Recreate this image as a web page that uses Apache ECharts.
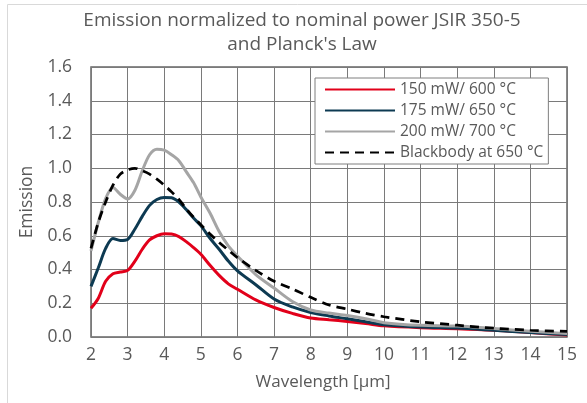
<!DOCTYPE html>
<html>
<head>
<meta charset="utf-8">
<script src="https://cdn.jsdelivr.net/npm/echarts@6/dist/echarts.min.js"></script>
<style>
  html, body { margin: 0; padding: 0; background: #fff; }
  #chart { width: 587px; height: 403px; }
</style>
</head>
<body>
<div id="chart"></div>
<script>
// wavelength grid in µm
const wavelength = [2, 2.2, 2.4, 2.6, 2.8, 3, 3.2, 3.4, 3.6, 3.8, 4, 4.2, 4.4, 4.6, 4.8, 5, 5.25, 5.5, 5.75, 6, 6.5, 7, 7.5, 8, 8.5, 9, 9.5, 10, 11, 12, 13, 14, 15];

const emission150 = [0.17, 0.23, 0.33, 0.375, 0.385, 0.395, 0.45, 0.52, 0.575, 0.60, 0.612, 0.61, 0.595, 0.565, 0.53, 0.49, 0.425, 0.365, 0.315, 0.283, 0.22, 0.175, 0.14, 0.112, 0.102, 0.092, 0.08, 0.066, 0.055, 0.049, 0.04, 0.026, 0.012];
const emission175 = [0.30, 0.41, 0.525, 0.583, 0.572, 0.578, 0.64, 0.715, 0.78, 0.815, 0.827, 0.825, 0.80, 0.755, 0.705, 0.66, 0.585, 0.52, 0.45, 0.392, 0.31, 0.225, 0.178, 0.145, 0.125, 0.108, 0.09, 0.072, 0.059, 0.053, 0.04, 0.026, 0.015];
const emission200 = [0.51, 0.68, 0.82, 0.886, 0.846, 0.818, 0.87, 0.985, 1.08, 1.113, 1.107, 1.08, 1.045, 0.98, 0.915, 0.83, 0.735, 0.625, 0.54, 0.48, 0.37, 0.29, 0.21, 0.16, 0.142, 0.127, 0.108, 0.085, 0.069, 0.065, 0.05, 0.034, 0.02];
const blackbody650 = [0.525, 0.68, 0.80, 0.90, 0.965, 0.99, 1.0, 0.985, 0.965, 0.935, 0.90, 0.86, 0.815, 0.76, 0.71, 0.665, 0.61, 0.56, 0.515, 0.47, 0.395, 0.33, 0.285, 0.235, 0.19, 0.165, 0.14, 0.12, 0.09, 0.07, 0.052, 0.04, 0.033];

const seriesNames = ["150 mW/ 600 °C", "175 mW/ 650 °C", "200 mW/ 700 °C", "Blackbody at 650 °C"];

const pairs = ys => wavelength.map((x, i) => [x, ys[i]]);

const FONT = "'Open Sans', 'Noto Sans', sans-serif";
const TXT = "#595959";

const lineSeries = (name, ys, color, type) => ({
  name,
  type: "line",
  data: pairs(ys),
  smooth: 0.3,
  symbol: "none",
  lineStyle: { color, width: type ? 2.75 : 3, type: type || "solid" },
  itemStyle: { color },
});

const chart = echarts.init(document.getElementById("chart"));
chart.setOption({
  animation: false,
  textStyle: { fontFamily: FONT },
  title: {
    text: "Emission normalized to nominal power JSIR 350-5\nand Planck's Law",
    left: 297,
    textAlign: "center",
    top: 4,
    textStyle: { fontFamily: FONT, fontSize: 19, fontWeight: "normal", color: TXT, lineHeight: 24 },
  },
  graphic: [
    {
      type: "rect",
      shape: { x: 7.5, y: 4.5, width: 700, height: 500 },
      style: { fill: null, stroke: "#d9d9d9", lineWidth: 1 },
      silent: true,
      z: -10,
    },
  ],
  legend: {
    orient: "vertical",
    left: 315,
    top: 78,
    padding: [1, 5, 1, 9],
    itemGap: 0,
    itemWidth: 70,
    itemHeight: 14,
    itemStyle: { opacity: 0 },
    borderColor: "#7f7f7f",
    borderWidth: 1,
    backgroundColor: "#fff",
    data: seriesNames,
    textStyle: { fontFamily: FONT, fontSize: 15.5, color: TXT, lineHeight: 21 },
  },
  grid: {
    left: 91,
    right: 20,
    top: 67,
    bottom: 66,
    show: true,
    borderColor: "#666",
    borderWidth: 1.5,
  },
  xAxis: {
    type: "value",
    min: 2,
    max: 15,
    interval: 1,
    name: "Wavelength [µm]",
    nameLocation: "middle",
    nameGap: 37,
    nameTextStyle: { fontFamily: FONT, fontSize: 17, color: TXT, padding: [0, 12, 0, 0] },
    axisLine: { show: false },
    axisTick: { show: false },
    axisLabel: { fontFamily: FONT, fontSize: 17.5, color: TXT, margin: 9 },
    splitLine: { show: true, lineStyle: { color: "#7a7a7a", width: 1 } },
  },
  yAxis: {
    type: "value",
    min: 0,
    max: 1.6,
    interval: 0.2,
    name: "Emission",
    nameLocation: "middle",
    nameGap: 51,
    nameTextStyle: { fontFamily: FONT, fontSize: 17.5, color: TXT },
    axisLine: { show: false },
    axisTick: { show: false },
    axisLabel: { fontFamily: FONT, fontSize: 17.5, color: TXT, margin: 19, formatter: v => v.toFixed(1) },
    splitLine: { show: true, lineStyle: { color: "#7a7a7a", width: 1 } },
  },
  series: [
    lineSeries(seriesNames[0], emission150, "#e2001a"),
    lineSeries(seriesNames[1], emission175, "#0d3a52"),
    lineSeries(seriesNames[2], emission200, "#a5a5a5"),
    lineSeries(seriesNames[3], blackbody650, "#000000", [9, 6]),
  ],
});
</script>
</body>
</html>
